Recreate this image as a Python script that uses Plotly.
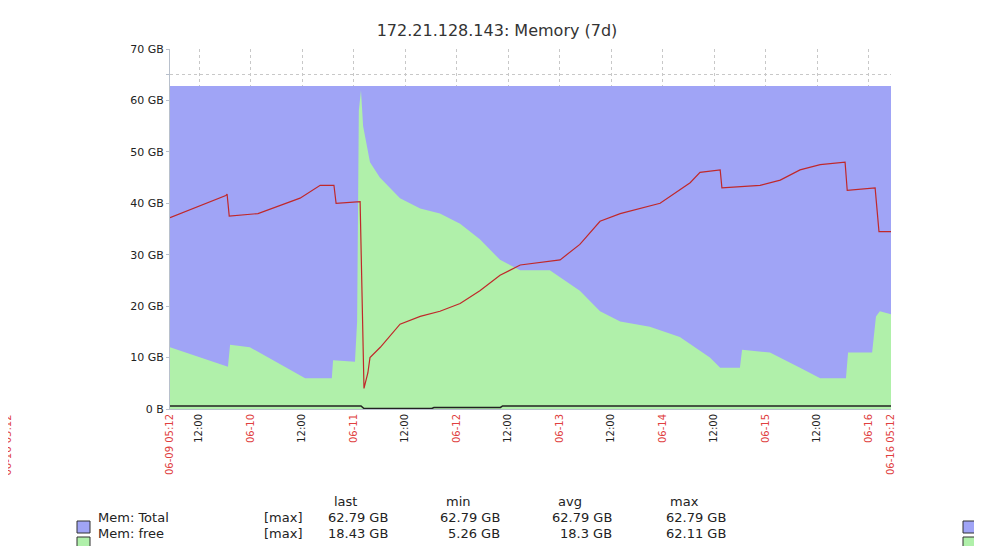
import plotly.graph_objects as go
import pandas as pd

START = pd.Timestamp("2024-06-09 05:12")
END = START + pd.Timedelta(hours=168)

# Mem: Total (GB) - constant
total_gb = 62.79

# Mem: free (GB), hours from start
free_h = [0, 13.5, 14.0, 18.6, 31.5, 37.7, 38.0, 43.1, 43.6, 44.0, 44.5, 45.0, 46.6, 48.9,
          53.6, 58.3, 62.9, 67.6, 72.2, 76.9, 81.6, 88.5, 95.5, 100.2, 104.9, 111.8, 118.8,
          125.8, 128.2, 132.8, 133.3, 139.8, 146.8, 151.5, 157.5, 158.0, 163.6, 164.5, 165.4, 168]
free_gb = [12, 8.2, 12.5, 12, 6, 6, 9.5, 9.2, 17, 58, 62, 55, 48, 45,
           41, 39, 38, 36, 33, 29, 27, 27, 23, 19, 17, 16, 14,
           10, 8, 8, 11.5, 11, 8, 6, 6, 11, 11, 18, 19, 18.4]

# red series (GB)
red_h = [0, 13.0, 13.3, 13.8, 20.5, 30.3, 35, 38.2, 38.7, 44.3, 45.2, 46.1, 46.6, 49.0,
         53.6, 58.3, 62.9, 67.6, 72.2, 76.9, 81.6, 86.2, 90.9, 95.5, 100.2, 104.9, 109.5,
         114.2, 121.2, 123.5, 128.2, 128.6, 137.5, 142.2, 146.8, 151.5, 157.3, 157.8, 164.3, 165.2, 168]
red_gb = [37.2, 41.5, 41.8, 37.5, 38, 41, 43.5, 43.5, 40, 40.3, 4, 7, 10, 12,
          16.5, 18, 19, 20.5, 23, 26, 28, 28.5, 29, 32, 36.5, 38, 39,
          40, 44, 46, 46.5, 43, 43.5, 44.5, 46.5, 47.5, 48, 42.5, 43, 34.5, 34.5]

# black series (GB)
black_h = [0, 44.5, 45.2, 61, 61.5, 77, 77.5, 168]
black_gb = [0.6, 0.6, 0.1, 0.1, 0.3, 0.3, 0.6, 0.6]

legend_rows = [
    ("Mem: Total", "#a0a4f6", ["62.79 GB", "62.79 GB", "62.79 GB", "62.79 GB"]),
    ("Mem: free", "#b0f0aa", ["18.43 GB", "5.26 GB", "18.3 GB", "62.11 GB"]),
]
legend_cols = ["last", "min", "avg", "max"]


def ts(hours):
    return [START + pd.Timedelta(hours=h) for h in hours]


# plot area in page pixels; the page body adds an 8px offset
OFF = 8
L, R, T, B = 170, 891, 49, 409


def px(x):
    return (x - L) / (R - L)


def py(y):
    return (B - y) / (B - T)


fig = go.Figure()
fig.add_trace(go.Scatter(x=[START, END], y=[total_gb, total_gb], mode='lines', fill='tozeroy',
                         fillcolor='#a0a4f6', line={'width': 0, 'color': '#a0a4f6'}))
fig.add_trace(go.Scatter(x=ts(free_h), y=free_gb, mode='lines', fill='tozeroy',
                         fillcolor='#b0f0aa', line={'width': 0, 'color': '#b0f0aa'}))
fig.add_trace(go.Scatter(x=ts(red_h), y=red_gb, mode='lines',
                         line={'width': 1.2, 'color': '#c0282a'}))
fig.add_trace(go.Scatter(x=ts(black_h), y=black_gb, mode='lines',
                         line={'width': 1.5, 'color': '#222222'}))

# x ticks: days in red, noon in black
tickvals, ticktext = [START], ["<span style='color:#e04040'>06-09 05:12</span>"]
t = pd.Timestamp("2024-06-09 12:00")
while t < END:
    if t.hour == 0:
        ticktext.append(f"<span style='color:#e04040'>{t.strftime('%m-%d')}</span>")
    else:
        ticktext.append("<span style='color:#222'>12:00</span>")
    tickvals.append(t)
    t += pd.Timedelta(hours=12)
tickvals.append(END)
ticktext.append("<span style='color:#e04040'>06-16 05:12</span>")

fig.update_layout(
    width=982, height=546,
    margin={'l': L - OFF, 'r': 982 - R + OFF, 't': T - OFF, 'b': 546 - B + OFF},
    paper_bgcolor='white', plot_bgcolor='white',
    showlegend=False,
    font={'family': 'DejaVu Sans', 'color': '#222'},
    title={'text': "172.21.128.143: Memory (7d)", 'x': px(497), 'xref': 'paper', 'xanchor': 'center',
           'y': 1 - (30 - OFF) / 546, 'yanchor': 'middle', 'font': {'size': 16, 'color': '#333'}},
    xaxis={'range': [START, END], 'tickvals': tickvals, 'ticktext': ticktext,
           'tickangle': -90, 'tickfont': {'size': 10}, 'showgrid': True,
           'gridcolor': '#c8c8c8', 'griddash': 'dot', 'zeroline': False,
           'showline': True, 'linecolor': '#b8c0cc', 'ticks': '', 'ticklen': 0},
    yaxis={'range': [0, 70], 'tickvals': [0, 10, 20, 30, 40, 50, 60, 65, 70],
           'ticktext': ["0 B"] + [f"{v} GB" for v in range(10, 61, 10)] + ["", "70 GB"],
           'tickfont': {'size': 11}, 'showgrid': True, 'gridcolor': '#c8c8c8',
           'griddash': 'dot', 'zeroline': False, 'showline': True,
           'linecolor': '#b8c0cc', 'ticks': 'outside', 'ticklen': 3, 'tickcolor': '#b8c0cc'},
)

shapes = []
annotations = []
# legend header
for name, xpos in zip(legend_cols, [345, 458, 570, 684]):
    annotations.append(dict(x=px(xpos), y=py(511), xref='paper', yref='paper', text=name,
                            showarrow=False, font={'size': 13}, xanchor='center'))
for i, (name, color, vals) in enumerate(legend_rows):
    yy = 527 + i * 16
    shapes.append(dict(type='rect', xref='paper', yref='paper', x0=px(77), x1=px(90),
                       y0=py(yy + 6), y1=py(yy - 6), fillcolor=color, line={'color': '#333', 'width': 1}))
    shapes.append(dict(type='rect', xref='paper', yref='paper', x0=px(963), x1=px(976),
                       y0=py(yy + 6), y1=py(yy - 6), fillcolor=color, line={'color': '#333', 'width': 1}))
    annotations.append(dict(x=px(96), y=py(yy), xref='paper', yref='paper', text=name,
                            showarrow=False, font={'size': 13}, xanchor='left'))
    annotations.append(dict(x=px(262), y=py(yy), xref='paper', yref='paper', text="[max]",
                            showarrow=False, font={'size': 13}, xanchor='left'))
    for v, xr in zip(vals, [390, 502, 614, 728]):
        annotations.append(dict(x=px(xr), y=py(yy), xref='paper', yref='paper', text=v,
                                showarrow=False, font={'size': 13}, xanchor='right'))

# fragment of the neighbouring graph at the left edge
shapes.append(dict(type='rect', xref='paper', yref='paper', x0=px(-10), x1=px(5),
                   y0=py(409), y1=py(87), fillcolor='#a0a4f6', line={'width': 0}, layer='above'))
shapes.append(dict(type='rect', xref='paper', yref='paper', x0=px(-10), x1=px(5),
                   y0=py(409), y1=py(320), fillcolor='#b0f0aa', line={'width': 0}, layer='above'))
shapes.append(dict(type='line', xref='paper', yref='paper', x0=px(-10), x1=px(5),
                   y0=py(407), y1=py(407), line={'color': '#222', 'width': 1.5}, layer='above'))
annotations.append(dict(x=px(7), y=py(413), xref='paper', yref='paper', text="06-16 05:12",
                        textangle=-90, showarrow=False, font={'size': 10, 'color': '#e04040'},
                        xanchor='center', yanchor='top'))

fig.update_layout(shapes=shapes, annotations=annotations)
fig.write_html("out.html")
